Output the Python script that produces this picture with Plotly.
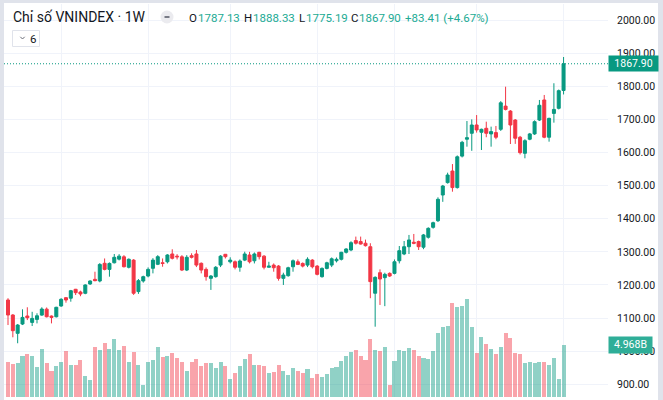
import plotly.graph_objects as go

# ---------------- data (weekly VNINDEX) ----------------
opens = [1154.6, 1109.3, 1054, 1082, 1106.3, 1087, 1096, 1109, 1127, 1106,
         1104, 1136.5, 1161.6, 1160, 1187, 1178.8, 1174.8, 1203, 1217, 1212,
         1265.4, 1247, 1267, 1278, 1285, 1253.4, 1275, 1180, 1212, 1227,
         1250.3, 1262.4, 1267, 1270, 1293.5, 1287, 1285, 1245, 1288.4, 1293.5,
         1265.4, 1247, 1220, 1225, 1260, 1292.6, 1270, 1270, 1253.4, 1275,
         1290.5, 1273, 1298.6, 1287, 1253.4, 1260, 1257, 1220, 1228, 1255,
         1270, 1265, 1260, 1275, 1257, 1225, 1250, 1260, 1273, 1277.5,
         1298.6, 1305.6, 1334, 1331, 1326, 1315.5, 1175, 1237, 1222, 1235,
         1235, 1273, 1293.5, 1315.5, 1329, 1331, 1314, 1344, 1374, 1394,
         1471.6, 1509, 1544, 1494, 1589, 1640, 1658, 1683, 1661, 1673,
         1656, 1660, 1670, 1740, 1725, 1698, 1646, 1597.5, 1640, 1656,
         1698, 1758.5, 1646, 1718, 1733.4, 1787.13]
highs = [1160, 1112, 1082, 1126.5, 1132.6, 1119, 1114.5, 1132.6, 1132, 1108,
         1134, 1160, 1163, 1185, 1188, 1182.7, 1202, 1214, 1240, 1266,
         1280, 1268, 1293.5, 1293, 1290, 1280, 1278, 1218, 1228, 1253,
         1281, 1290, 1280, 1293, 1307.7, 1293, 1290, 1290, 1295.6, 1305.6,
         1268, 1253, 1230, 1257, 1290, 1293.5, 1283.5, 1274, 1277, 1300.4,
         1300, 1298, 1300, 1290, 1270, 1265, 1260, 1237, 1255, 1277,
         1277, 1268, 1283.5, 1278, 1260, 1253, 1270, 1283, 1283, 1300,
         1311, 1332, 1346, 1346, 1337, 1326, 1226, 1247, 1237, 1238,
         1277, 1317.6, 1332.7, 1351, 1354, 1334, 1354, 1374, 1391, 1464.6,
         1502, 1539, 1565, 1591, 1635, 1695, 1700, 1713, 1672, 1693,
         1678, 1680, 1755, 1798.6, 1728, 1701, 1650, 1640, 1659, 1697,
         1758.5, 1773.6, 1705, 1809, 1790, 1888.33]
lows = [1079, 1042, 1024, 1079, 1094, 1076, 1084, 1107, 1102, 1084,
        1102, 1134, 1146.5, 1149.5, 1169.7, 1166, 1172, 1200, 1211, 1208,
        1244, 1225, 1265, 1274, 1253, 1250, 1170, 1173, 1207, 1223,
        1235, 1260, 1255, 1265, 1277, 1277, 1242, 1242, 1280, 1254,
        1235, 1213, 1185, 1222, 1254, 1280, 1265, 1247, 1240, 1272,
        1265, 1265, 1277, 1247, 1253, 1240, 1213, 1200, 1225, 1240,
        1260, 1253, 1254, 1250, 1229, 1222, 1247, 1254, 1268, 1274,
        1295, 1302, 1322, 1322, 1316, 1160, 1074, 1139.6, 1136, 1224,
        1232, 1265, 1290, 1293.5, 1323, 1305.6, 1308, 1340, 1370, 1390,
        1451, 1506, 1481.6, 1491, 1585, 1617.5, 1605, 1660, 1607.5, 1646,
        1617.5, 1640, 1665, 1727, 1625.6, 1626, 1594, 1582.4, 1637, 1653,
        1695, 1643, 1632.6, 1690, 1730, 1775.19]
closes = [1109.3, 1061.9, 1079, 1102, 1101, 1099, 1107, 1127.4, 1104, 1102,
          1132.6, 1156.7, 1154.6, 1182.7, 1176.7, 1172.7, 1200, 1212, 1213, 1262,
          1247, 1265, 1283.5, 1287, 1255, 1277.5, 1175, 1213, 1225, 1247,
          1275, 1285.4, 1265, 1290.5, 1280.5, 1285, 1245, 1283.5, 1283.5, 1260,
          1245, 1225, 1227, 1253.4, 1287, 1285.4, 1275, 1253.4, 1272.3, 1293.5,
          1270, 1293.5, 1285.4, 1253.4, 1257, 1252, 1220, 1230, 1252, 1273,
          1262, 1257, 1277.5, 1255, 1232, 1250, 1267, 1279, 1277.5, 1298.6,
          1308.6, 1327.6, 1326, 1323.6, 1318.6, 1210, 1223, 1218, 1232, 1227,
          1270, 1303.5, 1315.5, 1335.8, 1326, 1315.5, 1351, 1371, 1388, 1458.6,
          1498.8, 1532, 1494, 1587, 1630.7, 1644.6, 1683, 1668, 1670, 1658,
          1663, 1646, 1750, 1730, 1683, 1643, 1599.4, 1635.6, 1656, 1693,
          1742.5, 1646, 1703, 1730, 1786.6, 1867.90]
volumes_b = [3.33, 3.16, 3.23, 3.92, 4.11, 3.92, 2.88, 4.59, 3.23, 2.53,
             2.97, 3.33, 4.40, 3.04, 3.04, 3.54, 2.05, 1.64, 4.81, 4.49,
             5.19, 4.59, 5.54, 4.49, 4.87, 3.38, 4.28, 3.04, 1.10, 3.33,
             3.54, 4.81, 3.86, 3.92, 4.21, 3.71, 3.38, 2.53, 3.33, 3.67,
             3.00, 3.23, 3.23, 2.81, 3.33, 3.00, 1.74, 2.34, 2.97, 3.61,
             4.09, 3.04, 3.04, 2.97, 2.34, 2.40, 3.04, 2.53, 2.12, 2.81,
             2.50, 2.28, 2.72, 1.77, 2.19, 1.93, 2.21, 2.81, 2.91, 3.45,
             3.92, 4.33, 4.52, 3.95, 3.54, 5.54, 4.49, 4.43, 4.75, 1.14,
             3.48, 4.49, 4.43, 4.66, 4.49, 3.92, 3.71, 3.64, 4.40, 6.08,
             6.65, 6.80, 8.99, 8.61, 8.67, 9.34, 6.65, 4.18, 5.76, 5.03,
             4.56, 4.09, 4.81, 6.08, 5.61, 4.18, 4.09, 3.29, 3.38, 3.29,
             3.35, 3.35, 3.04, 3.71, 1.71, 4.968]
price_ticks = [900, 1000, 1100, 1200, 1300, 1400, 1500, 1600, 1700, 1800, 1900, 2000]
price_tick_labels = [f"{v:.2f}" for v in price_ticks]
grid_weeks = [11, 29, 46, 64, 80, 97, 115]

title_text = "Chỉ số VNINDEX · 1W"
ohlc_letters = ["O", "H", "L", "C"]
ohlc_values = ["1787.13", "1888.33", "1775.19", "1867.90"]
change_text = "+83.41 (+4.67%)"
last_price_label = "1867.90"
volume_label = "4.968B"
interval_label = "6"

# ---------------- styling ----------------
UP = "#089981"
DOWN = "#F23645"
UP_VOL = "rgba(8,153,129,0.45)"
DOWN_VOL = "rgba(242,54,69,0.45)"
TXT = "#131722"
BORDER = "#e0e3eb"
GRID = "#f0f3fa"
FONT = "Roboto"

W, H = 663, 400
ML, MR, MT, MB = 4, 55, 4, 3
PW = W - ML - MR
PH = H - MT - MB


def px(x):
    return (x - ML) / PW


def py(y):
    return (H - MB - y) / PH


idx = list(range(len(closes)))
vol_colors = [UP_VOL if c >= o else DOWN_VOL for o, c in zip(opens, closes)]

fig = go.Figure()
fig.add_trace(go.Bar(x=idx, y=volumes_b, marker_color=vol_colors, marker_line_width=0,
                     width=0.84, yaxis="y2", hoverinfo="skip", showlegend=False))
fig.add_trace(go.Candlestick(
    x=idx, open=opens, high=highs, low=lows, close=closes,
    increasing=dict(line=dict(color=UP, width=1), fillcolor=UP),
    decreasing=dict(line=dict(color=DOWN, width=1), fillcolor=DOWN),
    whiskerwidth=0, showlegend=False))

step = 4.831
x_left = (ML - 8) / step
x_right = (W - MR - 8) / step
y_top_px, y_bot_px = MT, H - MB
ppp = 0.3312  # px per point
y_max = 2000 + (20 - y_top_px) / ppp
y_min = 2000 - (y_bot_px - 20) / ppp
vol_max = volumes_b[-1] * PH / (y_bot_px - 345)

shapes = [
    # frame strips
    dict(type="rect", xref="paper", yref="paper", x0=px(0), x1=px(ML), y0=py(H), y1=py(0),
         fillcolor=BORDER, line_width=0, layer="above"),
    dict(type="rect", xref="paper", yref="paper", x0=px(0), x1=px(W), y0=py(3), y1=py(0),
         fillcolor=BORDER, line_width=0, layer="above"),
    dict(type="rect", xref="paper", yref="paper", x0=px(658), x1=px(W), y0=py(H), y1=py(0),
         fillcolor=BORDER, line_width=0, layer="above"),
    # last price dotted line
    dict(type="line", xref="paper", yref="y", x0=0, x1=1, y0=closes[-1], y1=closes[-1],
         line=dict(color=UP, width=1, dash="1px,2px"), layer="above"),
    # minus button
    dict(type="circle", xref="paper", yref="paper", x0=px(160.5), x1=px(173.5), y0=py(23.5), y1=py(10.5),
         fillcolor="#ebebef", line_width=0),
    dict(type="line", xref="paper", yref="paper", x0=px(164.5), x1=px(169.5), y0=py(17), y1=py(17),
         line=dict(color="#787b86", width=2)),
    # interval dropdown box
    dict(type="rect", xref="paper", yref="paper", x0=px(12.5), x1=px(39.5), y0=py(46.5), y1=py(30.5),
         fillcolor="white", line=dict(color=BORDER, width=1)),
    dict(type="path", xref="paper", yref="paper",
         path=f"M {px(20.3)},{py(36.8)} L {px(22.5)},{py(39.0)} L {px(24.7)},{py(36.8)}",
         line=dict(color="#6a6d78", width=1)),
]

ann = []
ann.append(dict(xref="paper", yref="paper", x=px(10.5), y=py(17), xanchor="left", yanchor="middle",
                text=title_text, showarrow=False, font=dict(family=FONT, size=14, color=TXT)))
letter_x = [189.3, 244.3, 299.0, 350.7]
value_x = [198.3, 253.0, 306.0, 359.0]
for L, V, lx, vx in zip(ohlc_letters, ohlc_values, letter_x, value_x):
    ann.append(dict(xref="paper", yref="paper", x=px(lx - 2), y=py(17.5), xanchor="left", yanchor="middle",
                    text=L, showarrow=False, font=dict(family=FONT, size=11.5, color=TXT)))
    ann.append(dict(xref="paper", yref="paper", x=px(vx - 2), y=py(17.5), xanchor="left", yanchor="middle",
                    text=V, showarrow=False, font=dict(family=FONT, size=11.5, color="#22ab94")))
ann.append(dict(xref="paper", yref="paper", x=px(403), y=py(17.5), xanchor="left", yanchor="middle",
                text=change_text, showarrow=False, font=dict(family=FONT, size=11.5, color="#22ab94")))
ann.append(dict(xref="paper", yref="paper", x=px(27.5), y=py(38.7), xanchor="left", yanchor="middle",
                text=interval_label, showarrow=False, font=dict(family=FONT, size=11.5, color=TXT)))
# price scale labels
ann.append(dict(xref="paper", yref="y", x=px(608.3), y=closes[-1], xanchor="left", yanchor="middle",
                text=last_price_label, showarrow=False, bgcolor=UP, width=47, height=13, borderpad=1,
                font=dict(family=FONT, size=10.5, color="white")))
ann.append(dict(xref="paper", yref="y2", x=px(608.3), y=volumes_b[-1], xanchor="left", yanchor="middle",
                text=volume_label, showarrow=False, bgcolor="#2fae98", width=41, height=13.5, borderpad=1,
                font=dict(family=FONT, size=10.5, color="white")))

fig.update_layout(
    width=W, height=H, margin=dict(l=ML, r=MR, t=MT, b=MB),
    paper_bgcolor="white", plot_bgcolor="white",
    boxgap=0.38, boxgroupgap=0, bargap=0,
    xaxis=dict(range=[x_left, x_right], tickvals=grid_weeks, showticklabels=False, ticks="",
               showgrid=True, gridcolor=GRID, gridwidth=1, zeroline=False,
               rangeslider=dict(visible=False), showline=False, fixedrange=True),
    yaxis=dict(range=[y_min, y_max], side="right", tickvals=price_ticks, ticktext=price_tick_labels,
               showgrid=True, gridcolor=GRID, gridwidth=1, zeroline=False, ticks="",
               ticklabelstandoff=8, tickfont=dict(family=FONT, size=10.5, color=TXT)),
    yaxis2=dict(range=[0, vol_max], overlaying="y", visible=False, fixedrange=True),
    shapes=shapes, annotations=ann, showlegend=False,
)

fig.write_html("out.html", config={"displayModeBar": False, "staticPlot": True},
               post_script="document.body.style.margin='0';document.body.style.overflow='hidden';")
